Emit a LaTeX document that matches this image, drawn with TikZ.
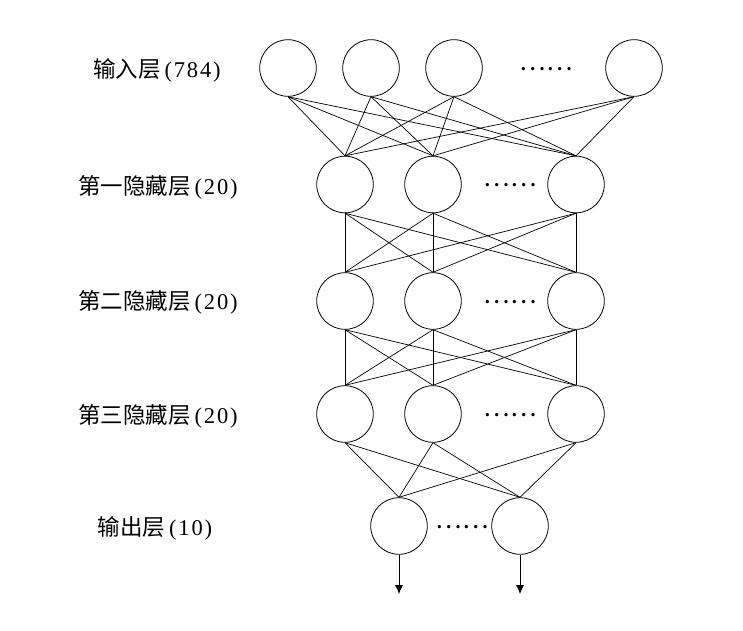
\documentclass[tikz,border=0pt]{standalone}
\usepackage{fontspec}
\setmainfont{Liberation Serif}
\newfontfamily\cjk{Noto Sans CJK SC}
\newfontfamily\digits[LetterSpace=8]{Liberation Serif}
\usetikzlibrary{arrows.meta}
\begin{document}
\begin{tikzpicture}[x=1pt,y=-1pt,
  neuron/.style={circle,draw,minimum size=56.6pt,inner sep=0pt,line width=0.8pt},
  layerlbl/.style={font=\fontsize{22.5}{24}\selectfont,inner sep=0pt},
  ellip/.style={font=\cjk\fontsize{25}{26}\selectfont,inner sep=0pt},
  link/.style={line width=0.7pt},
  outarrow/.style={line width=0.8pt,-{Latex[length=9pt,width=8pt]}}]
\useasboundingbox (0,0) rectangle (743,630);
% input layer
\node[neuron] (i1) at (288,68) {};
\node[neuron] (i2) at (371,68) {};
\node[neuron] (i3) at (454,68) {};
\node[neuron] (i4) at (634,68) {};
\node[ellip] (di) at (546,69) {……};
% hidden layers
\foreach \l/\y in {1/184.5,2/301,3/414}{
  \node[neuron] (h\l1) at (345,\y) {};
  \node[neuron] (h\l2) at (433,\y) {};
  \node[neuron] (h\l3) at (576,\y) {};
  \node[ellip] (dh\l) at (510,\y+1) {……};
}
% output layer
\node[neuron] (o1) at (399,526) {};
\node[neuron] (o2) at (520,526) {};
\node[ellip] (do) at (462,527.5) {……};
% labels
\node[layerlbl] (l0) at (157,70) {{\cjk 输入层}\,{\digits(784)}};
\node[layerlbl] (l1) at (158,187) {{\cjk 第一隐藏层}\,{\digits(20)}};
\node[layerlbl] (l2) at (158,302) {{\cjk 第二隐藏层}\,{\digits(20)}};
\node[layerlbl] (l3) at (158,416) {{\cjk 第三隐藏层}\,{\digits(20)}};
\node[layerlbl] (l4) at (155,528) {{\cjk 输出层}\,{\digits(10)}};
% connections
\foreach \a in {1,2,3,4}{
  \foreach \b in {1,2,3}{
    \draw[link] (i\a.south) -- (h1\b.north);
  }
}
\foreach \l/\m in {1/2,2/3}{
  \foreach \a in {1,2,3}{
    \foreach \b in {1,2,3}{
      \draw[link] (h\l\a.south) -- (h\m\b.north);
    }
  }
}
\foreach \a in {1,2,3}{
  \foreach \b in {1,2}{
    \draw[link] (h3\a.south) -- (o\b.north);
  }
}
% outputs
\coordinate (e1) at (399,594);
\coordinate (e2) at (520,594);
\draw[outarrow] (o1.south) -- (e1);
\draw[outarrow] (o2.south) -- (e2);
\end{tikzpicture}
\end{document}
